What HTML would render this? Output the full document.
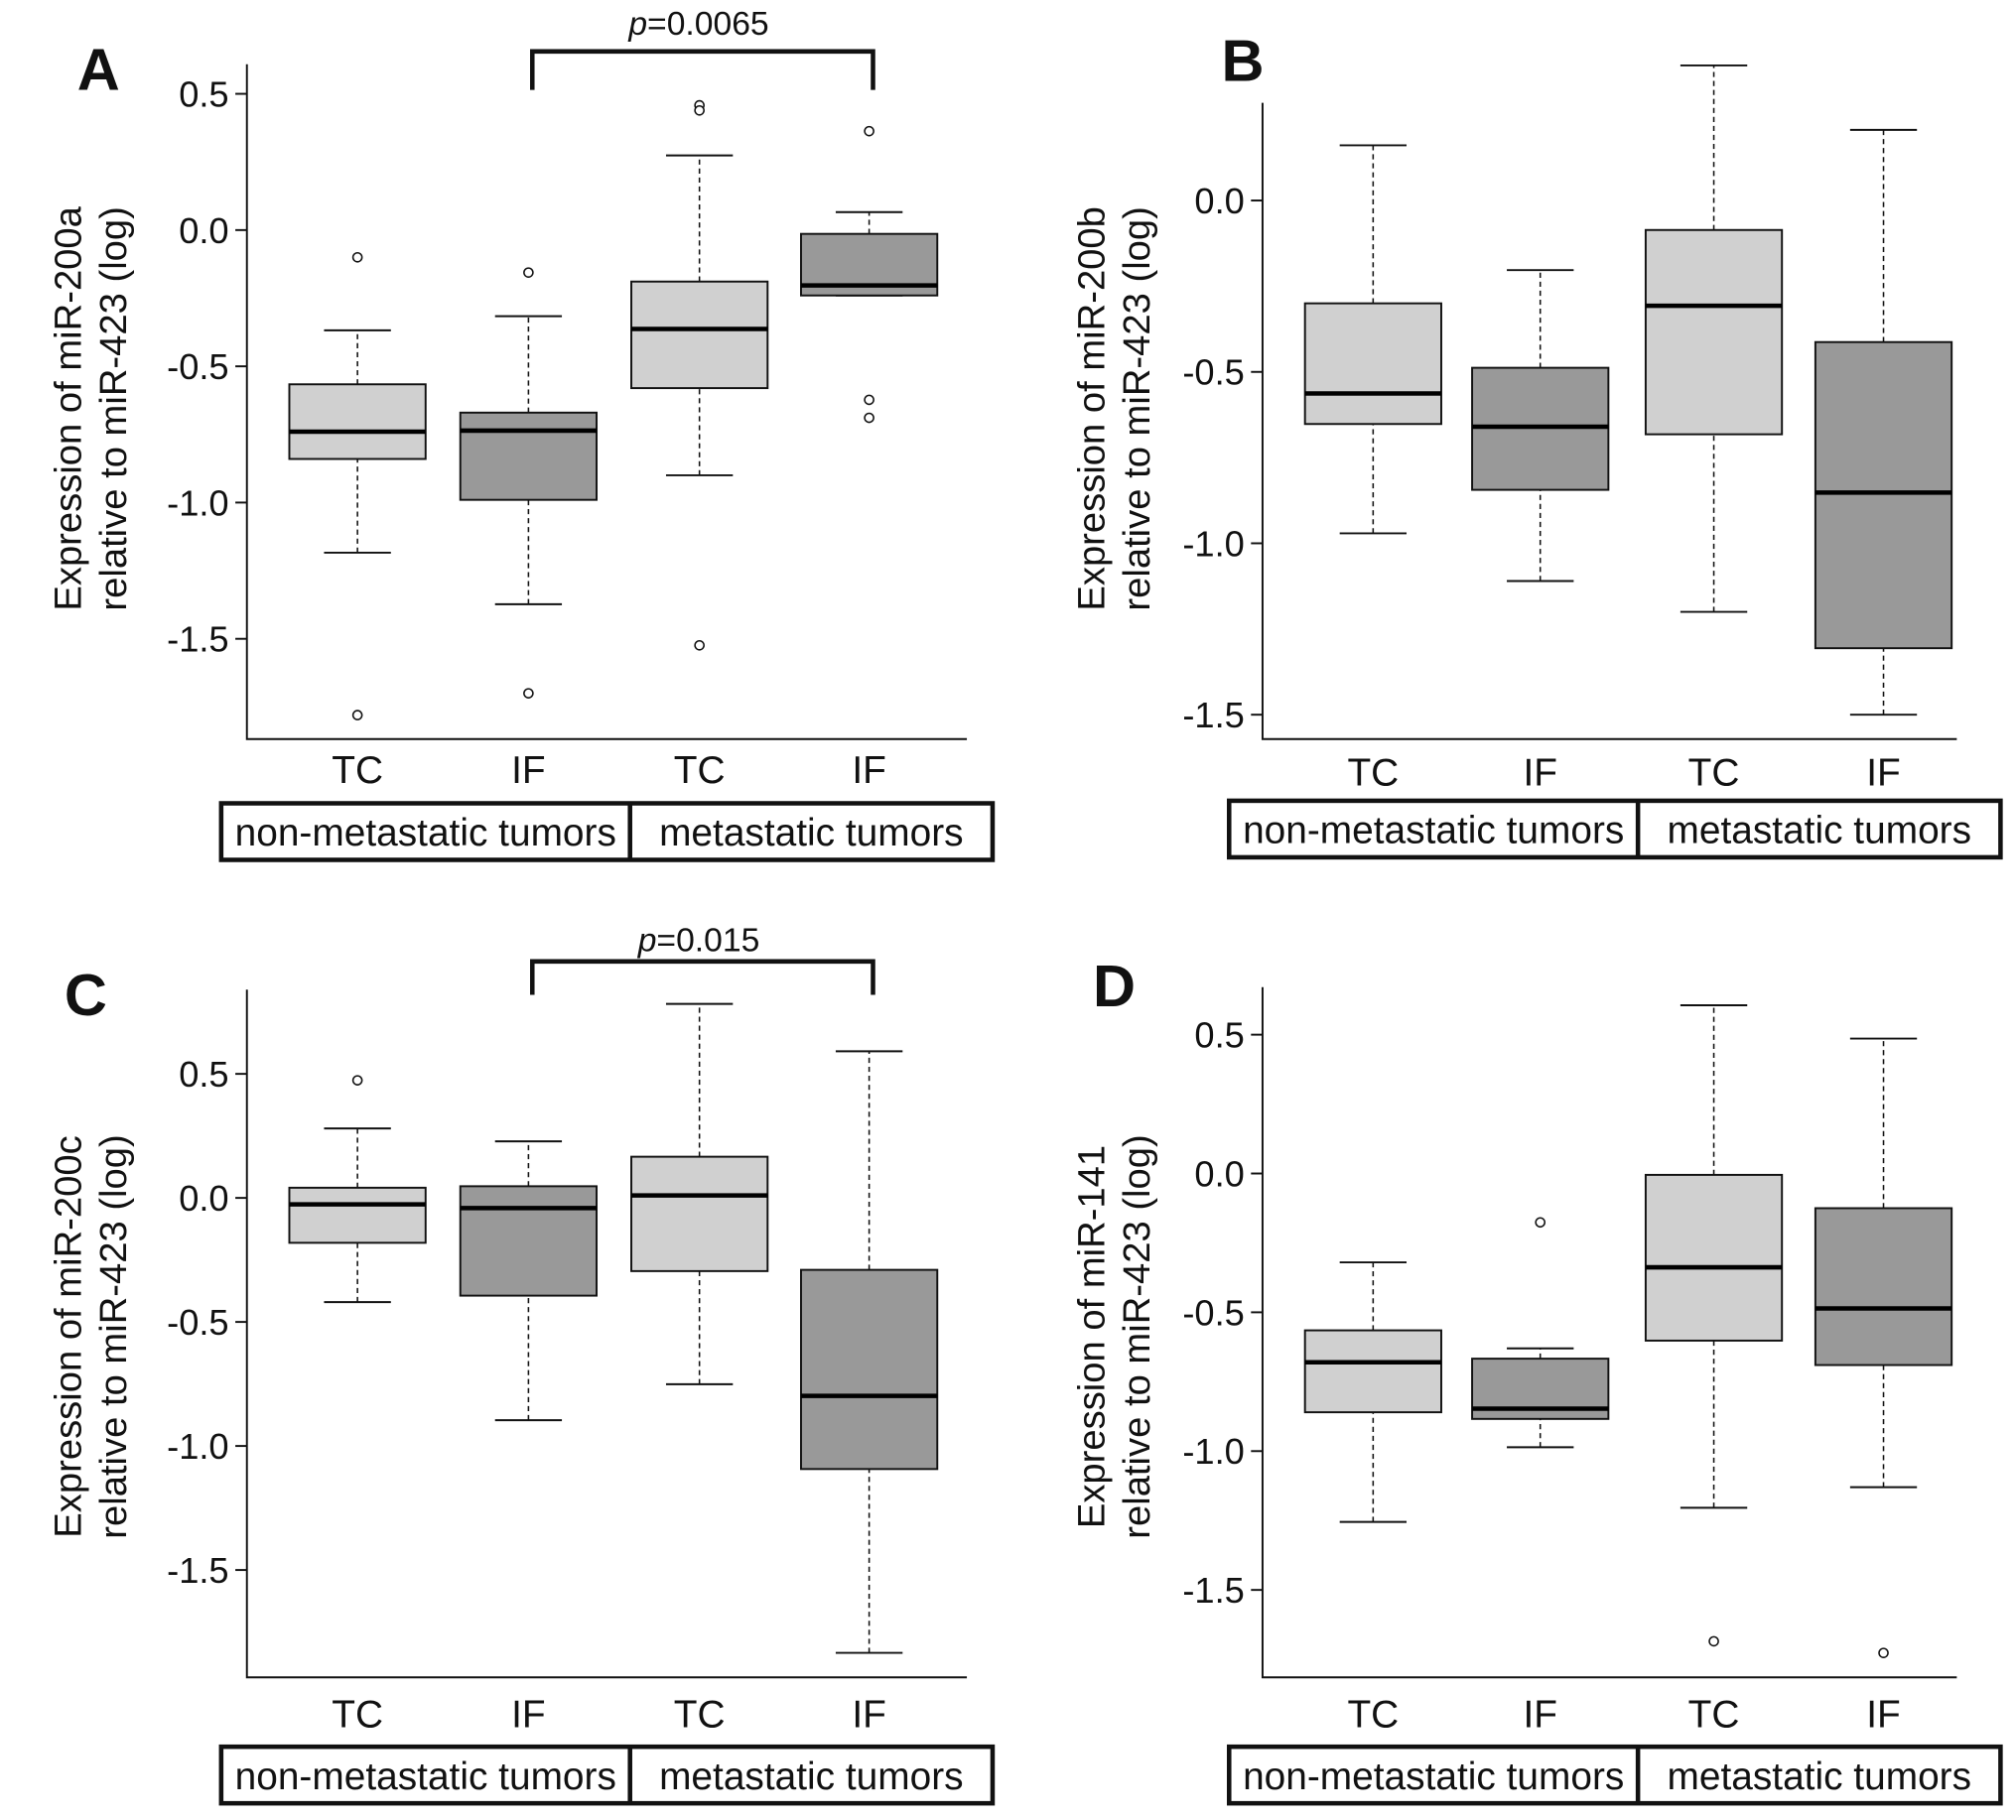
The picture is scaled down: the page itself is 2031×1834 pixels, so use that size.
<!DOCTYPE html>
<html><head><meta charset="utf-8"><style>
html,body{margin:0;padding:0;background:#fff}
svg{display:block}
text{font-family:"Liberation Sans",sans-serif;fill:#111}
</style></head><body>
<svg id="chart" width="2031" height="1834" viewBox="0 0 1568 1416" xmlns="http://www.w3.org/2000/svg"></svg>
<script>
const categories = ["TC","IF","TC","IF"];
const groups = ["non-metastatic tumors","metastatic tumors"];
const fills = ["#d0d0d0","#999999","#d0d0d0","#999999"];
// each box: [low, q1, median, q3, high]
const boxesA = [[-1.184,-0.84,-0.74,-0.566,-0.368],[-1.373,-0.99,-0.736,-0.67,-0.316],[-0.90,-0.58,-0.363,-0.189,0.274],[-0.24,-0.24,-0.203,-0.014,0.066]];
const outliersA = [[-0.1,-1.78],[-0.156,-1.70],[0.458,0.439,-1.524],[0.363,-0.623,-0.689]];
const ticksA = [0.5,0.0,-0.5,-1.0,-1.5];
const boxesB = [[-0.971,-0.652,-0.563,-0.30,0.161],[-1.11,-0.844,-0.66,-0.488,-0.203],[-1.2,-0.682,-0.307,-0.086,0.394],[-1.5,-1.306,-0.852,-0.413,0.206]];
const outliersB = [[],[],[],[]];
const ticksB = [0.0,-0.5,-1.0,-1.5];
const boxesC = [[-0.42,-0.181,-0.026,0.041,0.28],[-0.896,-0.394,-0.041,0.047,0.228],[-0.751,-0.295,0.01,0.166,0.782],[-1.834,-1.093,-0.798,-0.29,0.591]];
const outliersC = [[0.474],[],[],[]];
const ticksC = [0.5,0.0,-0.5,-1.0,-1.5];
const boxesD = [[-1.255,-0.86,-0.68,-0.565,-0.32],[-0.986,-0.884,-0.847,-0.667,-0.63],[-1.204,-0.602,-0.338,-0.005,0.606],[-1.13,-0.69,-0.486,-0.125,0.486]];
const outliersD = [[],[-0.176],[-1.685],[-1.727]];
const ticksD = [0.5,0.0,-0.5,-1.0,-1.5];
const tickLabels = {"0.5":"0.5","0":"0.0","-0.5":"-0.5","-1":"-1.0","-1.5":"-1.5"};

const NS="http://www.w3.org/2000/svg";
const svg=document.getElementById('chart');
function mk(tag,attrs,parent,txt){const e=document.createElementNS(NS,tag);for(const k in attrs)e.setAttribute(k,attrs[k]);if(txt!==undefined)e.textContent=txt;(parent||svg).appendChild(e);return e;}

const panels=[
 {id:'a',letter:'A',lx:60,ly:70,ax:192,top:50,bottom:575,right:752,y0:179,ppu:212,boxes:boxesA,out:outliersA,ticks:ticksA,cx:[278,411,544,676],catY:609,gy:625,gx:172,t1:"Expression of miR-200a",t2:"relative to miR-423 (log)",tx:67,tcy:318,p:"0.0065",py:40,pd:70,pty:27},
 {id:'b',letter:'B',lx:950,ly:63,ax:982,top:80,bottom:575,right:1522,y0:156,ppu:266.7,boxes:boxesB,out:outliersB,ticks:ticksB,cx:[1068,1198,1333,1465],catY:611,gy:623,gx:956,t1:"Expression of miR-200b",t2:"relative to miR-423 (log)",tx:863,tcy:318},
 {id:'c',letter:'C',lx:50,ly:790,ax:192,top:770,bottom:1305,right:752,y0:932,ppu:193,boxes:boxesC,out:outliersC,ticks:ticksC,cx:[278,411,544,676],catY:1344,gy:1359,gx:172,t1:"Expression of miR-200c",t2:"relative to miR-423 (log)",tx:67,tcy:1040,p:"0.015",py:748,pd:774,pty:740},
 {id:'d',letter:'D',lx:850,ly:783,ax:982,top:768,bottom:1305,right:1522,y0:913,ppu:216,boxes:boxesD,out:outliersD,ticks:ticksD,cx:[1068,1198,1333,1465],catY:1344,gy:1359,gx:956,t1:"Expression of miR-141",t2:"relative to miR-423 (log)",tx:863,tcy:1040}
];

panels.forEach(P=>{
 const g=mk('g',{});
 
 
 const y=v=>P.y0-v*P.ppu;
 const L=mk('text',{x:P.lx,y:P.ly,'font-size':46,'font-weight':'bold'},g,P.letter);
 
 
 const ya=mk('path',{d:`M${P.ax},${P.top}V${P.bottom}H${P.right}`,stroke:'#111','stroke-width':1.5,fill:'none'},g);
 
 
 P.ticks.forEach(t=>{
  const yy=y(t);
  const tl=mk('line',{x1:P.ax-9,x2:P.ax,y1:yy,y2:yy,stroke:'#111','stroke-width':1.5},g);
  
  
  const tt=mk('text',{x:P.ax-14,y:yy+10,'font-size':28,'text-anchor':'end'},g,tickLabels[String(t)]);
  
  
 });
 const tg=mk('text',{transform:`translate(${P.tx-4},${P.tcy}) rotate(-90)`,'font-size':29.5,'text-anchor':'middle'},g);
 
 
 mk('tspan',{x:0,y:0},tg,P.t1);
 mk('tspan',{x:0,y:35},tg,P.t2);
 const bw=106,cw=52;
 P.boxes.forEach((b,i)=>{
  const cx=P.cx[i];
  const bg=mk('g',{},g);
  
  
  mk('line',{x1:cx,x2:cx,y1:y(b[0]),y2:y(b[1]),stroke:'#111','stroke-width':1.2,'stroke-dasharray':'4,3'},bg);
  mk('line',{x1:cx,x2:cx,y1:y(b[3]),y2:y(b[4]),stroke:'#111','stroke-width':1.2,'stroke-dasharray':'4,3'},bg);
  mk('line',{x1:cx-cw/2,x2:cx+cw/2,y1:y(b[0]),y2:y(b[0]),stroke:'#111','stroke-width':1.5},bg);
  mk('line',{x1:cx-cw/2,x2:cx+cw/2,y1:y(b[4]),y2:y(b[4]),stroke:'#111','stroke-width':1.5},bg);
  mk('rect',{x:cx-bw/2,y:y(b[3]),width:bw,height:Math.max(0.5,y(b[1])-y(b[3])),fill:fills[i],stroke:'#111','stroke-width':1.5},bg);
  mk('line',{x1:cx-bw/2,x2:cx+bw/2,y1:y(b[2]),y2:y(b[2]),stroke:'#000','stroke-width':3.5},bg);
  P.out[i].forEach(o=>{
   const c=mk('circle',{cx:cx,cy:y(o),r:3.5,fill:'#fff',stroke:'#111','stroke-width':1.2},bg);
   
   
  });
  const ct=mk('text',{x:cx,y:P.catY,'font-size':30,'text-anchor':'middle'},g,categories[i]);
  
  
 });
 const gw=600,gh=44,div=318;
 const gb=mk('g',{},g);
 
 
 mk('rect',{x:P.gx,y:P.gy,width:gw,height:gh,fill:'none',stroke:'#111','stroke-width':3.5},gb);
 mk('line',{x1:P.gx+div,x2:P.gx+div,y1:P.gy,y2:P.gy+gh,stroke:'#111','stroke-width':3.5},gb);
 mk('text',{x:P.gx+div/2,y:P.gy+33,'font-size':30,'text-anchor':'middle'},gb,groups[0]);
 mk('text',{x:P.gx+div+(gw-div)/2,y:P.gy+33,'font-size':30,'text-anchor':'middle'},gb,groups[1]);
 if(P.p){
  const sb=mk('g',{},g);
  
  
  mk('path',{d:`M${P.cx[1]+3},${P.pd}V${P.py}H${P.cx[3]+3}V${P.pd}`,stroke:'#111','stroke-width':3.5,fill:'none'},sb);
  const pt=mk('text',{x:(P.cx[1]+P.cx[3])/2,y:P.pty,'font-size':26,'text-anchor':'middle'},sb);
  mk('tspan',{'font-style':'italic'},pt,'p');
  mk('tspan',{},pt,'='+P.p);
 }
});
</script>
</body></html>
